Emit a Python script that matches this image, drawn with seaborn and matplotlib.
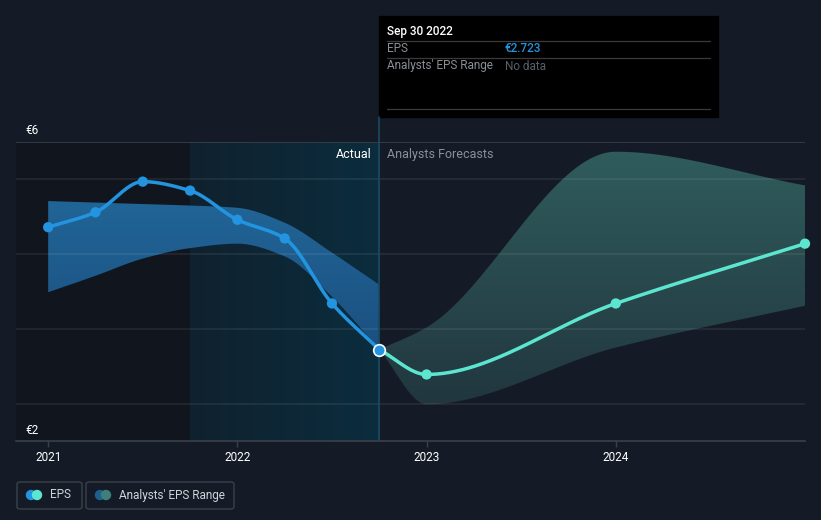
import numpy as np
import pandas as pd
import matplotlib
matplotlib.use("Agg")
import matplotlib.pyplot as plt
import seaborn as sns
from matplotlib.colors import LinearSegmentedColormap
from matplotlib.patches import FancyBboxPatch, Rectangle, Ellipse

# ---- data ----
eps_dates = [2021.0, 2021.25, 2021.5, 2021.75, 2022.0, 2022.25, 2022.5, 2022.75]
eps_values = [4.36, 4.56, 4.97, 4.85, 4.46, 4.21, 3.34, 2.723]

past_range_low = [3.49, 3.71, 3.94, 4.08, 4.14, 3.97, 3.43, 2.723]
past_range_high = [4.71, 4.69, 4.67, 4.65, 4.62, 4.42, 4.02, 3.59]

fc_dates = [2022.75, 2023.0, 2024.0, 2025.0]
fc_values = [2.723, 2.39, 3.34, 4.14]
fc_range_low = [2.723, 1.99, 2.75, 3.31]
fc_range_high = [2.723, 3.02, 5.37, 4.92]

x_ticks = [2021, 2022, 2023, 2024]
x_tick_labels = ["2021", "2022", "2023", "2024"]
legend_labels = ["EPS", "Analysts' EPS Range"]


def pchip(x, y, n=200):
    x = np.asarray(x, float); y = np.asarray(y, float)
    h = np.diff(x); d = np.diff(y) / h
    m = np.zeros_like(y)
    for k in range(1, len(x) - 1):
        if d[k - 1] * d[k] > 0:
            w1 = 2 * h[k] + h[k - 1]; w2 = h[k] + 2 * h[k - 1]
            m[k] = (w1 + w2) / (w1 / d[k - 1] + w2 / d[k])
    m[0] = d[0]; m[-1] = d[-1]
    xs = np.linspace(x[0], x[-1], n)
    idx = np.clip(np.searchsorted(x, xs) - 1, 0, len(x) - 2)
    t = (xs - x[idx]) / h[idx]
    h00 = 2 * t**3 - 3 * t**2 + 1; h10 = t**3 - 2 * t**2 + t
    h01 = -2 * t**3 + 3 * t**2; h11 = t**3 - t**2
    ys = h00 * y[idx] + h10 * h[idx] * m[idx] + h01 * y[idx + 1] + h11 * h[idx] * m[idx + 1]
    return xs, ys


BG = "#151b26"
sns.set_theme(style="dark")
plt.rcParams["font.family"] = ["Roboto", "DejaVu Sans"]

fig = plt.figure(figsize=(8.21, 5.2), dpi=100, facecolor=BG)
W, H = 821, 520
L, R, T, B = 16, 805, 142, 441
ax = fig.add_axes([L / W, 1 - B / H, (R - L) / W, (B - T) / H])
ax.set_facecolor(BG)
xmin, xmax = 2020.83, 2025.0
ax.set_xlim(xmin, xmax)
ax.set_ylim(1.5, 5.5)

# background regions
ax.axvspan(xmin, 2021.75, color="#11161e", zorder=0, lw=0)
grad = np.linspace(0, 1, 256).reshape(1, -1)
cmap = LinearSegmentedColormap.from_list("hl", ["#10212e", "#0b2d3e"])
ax.imshow(grad, cmap=cmap, aspect="auto", extent=[2021.75, 2022.75, 1.5, 5.5],
          zorder=0.5, interpolation="bilinear")


def gradient_band(x, lo, hi, c_bottom, c_top, y0, y1, z=2):
    poly = ax.fill_between(x, lo, hi, color="none", lw=0, zorder=z)
    vgrad = np.linspace(0, 1, 256).reshape(-1, 1)
    cm = LinearSegmentedColormap.from_list("b", [c_bottom, c_top])
    im = ax.imshow(vgrad, cmap=cm, aspect="auto", origin="lower",
                   extent=[x[0], x[-1], y0, y1], zorder=z, interpolation="bilinear")
    path = poly.get_paths()[0]
    im.set_clip_path(path, transform=ax.transData)


# past range band
xs, lo = pchip(eps_dates, past_range_low)
_, hi = pchip(eps_dates, past_range_high)
gradient_band(xs, lo, hi, "#1b4f7a", "#2166998", 2.7, 4.75) if False else None
gradient_band(xs, lo, hi, "#1b5080", "#216597", 2.7, 4.75)

# forecast band
xf, flo = pchip(fc_dates, fc_range_low)
_, fhi = pchip(fc_dates, fc_range_high)
gradient_band(xf, flo, fhi, "#21363e", "#305c5c", 1.95, 5.4)

ax.set_xlim(xmin, xmax)
ax.set_ylim(1.5, 5.5)

# grid (drawn over bands, translucent)
for g in [2, 3, 4, 5]:
    ax.axhline(g, color="white", alpha=0.08, lw=1.2, zorder=3)
ax.axhline(5.5, color="#3a414b", lw=1.2, zorder=3)

# EPS lines
xe, ye = pchip(eps_dates, eps_values)
sns.lineplot(x=xe, y=ye, ax=ax, color="#2394df", lw=2.5, zorder=4)
sns.scatterplot(x=eps_dates[:-1], y=eps_values[:-1], ax=ax, color="#2394df", s=55,
                edgecolor="none", zorder=5)
xfe, yfe = pchip(fc_dates, fc_values)
sns.lineplot(x=xfe, y=yfe, ax=ax, color="#5ce6d0", lw=2.5, zorder=4)
sns.scatterplot(x=fc_dates[1:], y=fc_values[1:], ax=ax, color="#5ce6d0", s=55,
                edgecolor="none", zorder=5, clip_on=False)
ax.scatter([eps_dates[-1]], [eps_values[-1]], s=70, color="#2394df", edgecolor="white",
           linewidth=1.2, zorder=6)

# divider line
ax.axvline(2022.75, color="#1a4a60", lw=1.2, zorder=3)
fig.add_artist(plt.Line2D([379 / W, 379 / W], [1 - 142 / H, 1 - 117 / H], color="#1a4a60", lw=1.2))

ax.text(2022.75 - 0.04, 5.33, "Actual", color="white", ha="right", va="center", fontsize=9)
ax.text(2022.75 + 0.04, 5.33, "Analysts Forecasts", color="#8a9099", ha="left", va="center", fontsize=9)

# axes styling
for s in ["top", "right", "left"]:
    ax.spines[s].set_visible(False)
ax.spines["bottom"].set_color("#3a414b")
ax.spines["bottom"].set_linewidth(1.2)
ax.set_yticks([])
ax.set_xticks(x_ticks)
ax.set_xticklabels(x_tick_labels, color="white", fontsize=8.5)
ax.tick_params(axis="x", colors="#3a414b", length=4, width=1, labelcolor="white", pad=3, bottom=True)
ax.grid(False)
ax.set_xlabel(""); ax.set_ylabel("")

fig.text(25 / W, 1 - 130 / H, "€6", color="white", fontsize=8.5, va="center")
fig.text(25 / W, 1 - 430 / H, "€2", color="white", fontsize=8.5, va="center")

# tooltip
fig.add_artist(Rectangle((379 / W, 1 - 117 / H), (718 - 379) / W, (117 - 16) / H, color="black",
                         transform=fig.transFigure))
fig.text(387 / W, 1 - 31 / H, "Sep 30 2022", color="white", fontsize=8.5, va="center", weight="medium")
for yy in [41, 58, 109]:
    fig.add_artist(plt.Line2D([387 / W, 710 / W], [1 - yy / H, 1 - yy / H], color="#3a3a3a", lw=0.9))
fig.text(387 / W, 1 - 49 / H, "EPS", color="#8a8f96", fontsize=8.5, va="center")
fig.text(505 / W, 1 - 49 / H, "€2.723", color="#2394df", fontsize=8.5, va="center", weight="medium")
fig.text(387 / W, 1 - 66 / H, "Analysts' EPS Range", color="#8a8f96", fontsize=8.5, va="center")
fig.text(505 / W, 1 - 66 / H, "No data", color="#5a5f66", fontsize=8.5, va="center")


# legend boxes
def legend_box(x0, x1, label, c1, c2):
    fig.add_artist(FancyBboxPatch((x0 / W, 1 - 509 / H), (x1 - x0) / W, 27 / H,
                                  boxstyle="round,pad=0,rounding_size=0.004", fc=BG, ec="#3a414b",
                                  lw=1, transform=fig.transFigure))
    for cx, c in [(x0 + 14, c1), (x0 + 20, c2)]:
        fig.add_artist(Ellipse((cx / W, 1 - 495 / H), 9 / W, 9 / H, color=c,
                               transform=fig.transFigure))
    fig.text((x0 + 33) / W, 1 - 495 / H, label, color="#d0d3d8", fontsize=8.5, va="center")


legend_box(17, 82, legend_labels[0], "#2394df", "#5ce6d0")
legend_box(86, 234, legend_labels[1], "#1e5f8f", "#3f7f7a")

fig.savefig("out.png", dpi=100, facecolor=BG)
